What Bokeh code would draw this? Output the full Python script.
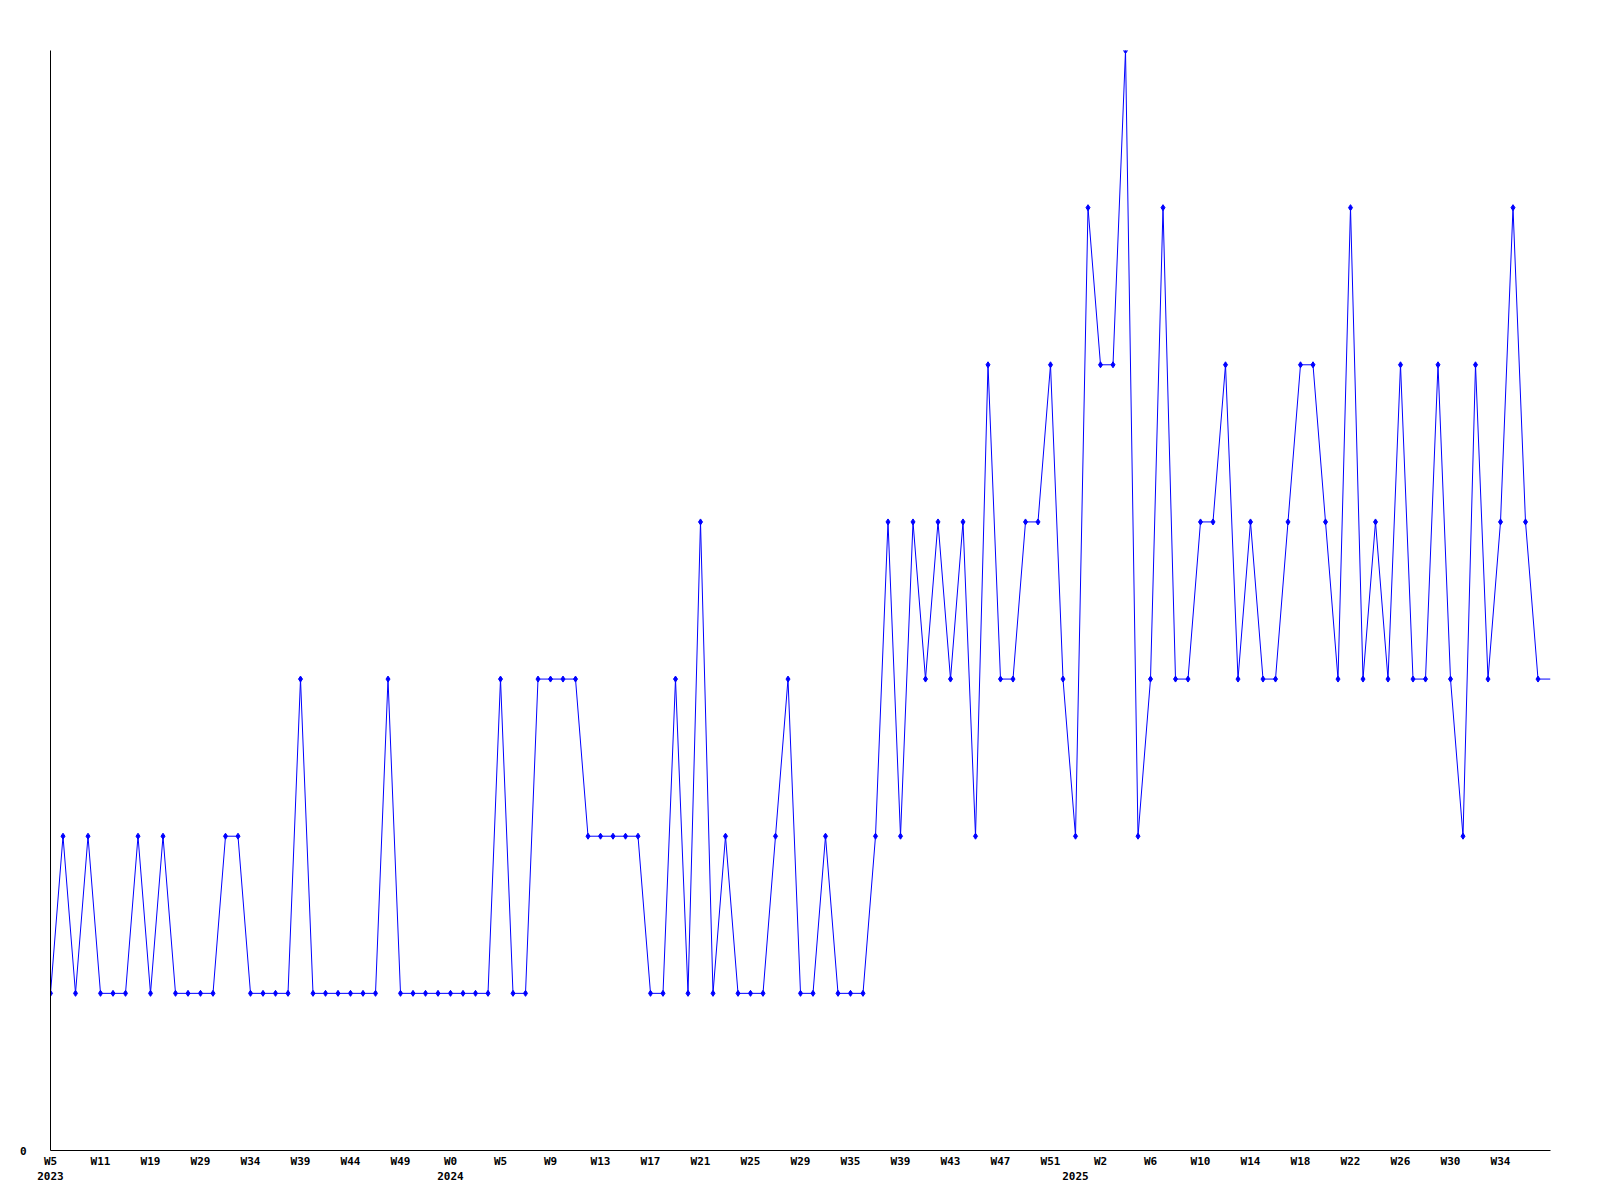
from bokeh.plotting import figure
from bokeh.models import Range1d, FixedTicker, LinearAxis, ColumnDataSource
from bokeh.embed import file_html
from bokeh.resources import INLINE

# weekly counts, one per data point (categorical sequence of weeks)
values = [1, 2, 1, 2, 1, 1, 1, 2, 1, 2, 1, 1, 1, 1, 2, 2, 1, 1, 1, 1,
          3, 1, 1, 1, 1, 1, 1, 3, 1, 1, 1, 1, 1, 1, 1, 1, 3, 1, 1, 3,
          3, 3, 3, 2, 2, 2, 2, 2, 1, 1, 3, 1, 4, 1, 2, 1, 1, 1, 2, 3,
          1, 1, 2, 1, 1, 1, 2, 4, 2, 4, 3, 4, 3, 4, 2, 5, 3, 3, 4, 4,
          5, 3, 2, 6, 5, 5, 7, 2, 3, 6, 3, 3, 4, 4, 5, 3, 4, 3, 3, 4,
          5, 5, 4, 3, 6, 3, 4, 3, 5, 3, 3, 5, 3, 2, 5, 3, 4, 6, 4, 3,
          3]

# tick labels shown every 4th point
week_labels = ["W5", "W11", "W19", "W29", "W34", "W39", "W44", "W49", "W0", "W5",
               "W9", "W13", "W17", "W21", "W25", "W29", "W35", "W39", "W43", "W47",
               "W51", "W2", "W6", "W10", "W14", "W18", "W22", "W26", "W30", "W34"]
week_label_step = 4

year_labels = ["2023", "2024", "2025"]
year_positions = [0, 32, 82]

y_max = 7

xs = list(range(len(values)))
src = ColumnDataSource(dict(x=xs, y=values))
marker_src = ColumnDataSource(dict(x=xs[:-1], y=values[:-1]))

p = figure(width=1584, height=1184, output_backend="svg", toolbar_location=None,
           x_range=Range1d(0, len(values) - 1), y_range=Range1d(0, y_max),
           min_border_left=50, min_border_right=34, min_border_top=50, min_border_bottom=34)
p.outline_line_color = None
p.xgrid.visible = False
p.ygrid.visible = False
p.background_fill_color = "white"
p.border_fill_color = "white"

p.line("x", "y", source=src, line_color="#0000ff", line_width=1)
p.scatter("x", "y", source=marker_src, marker="diamond", size=6,
          fill_color="#0000ff", line_color="#0000ff")

font = "DejaVu Sans Mono"

tick_pos = [i * week_label_step for i in range(len(week_labels))]
xa = p.xaxis[0]
xa.ticker = FixedTicker(ticks=tick_pos)
xa.major_label_overrides = {t: lab for t, lab in zip(tick_pos, week_labels)}
xa.major_tick_line_color = None
xa.minor_tick_line_color = None
xa.major_tick_out = 0
xa.major_tick_in = 0
xa.major_label_standoff = 4
xa.axis_line_color = "black"
xa.axis_line_width = 1
xa.major_label_text_font = font
xa.major_label_text_font_style = "bold"
xa.major_label_text_font_size = "11px"
xa.major_label_text_color = "black"

ya = p.yaxis[0]
ya.ticker = FixedTicker(ticks=[0])
ya.major_label_overrides = {0: "0"}
ya.major_tick_line_color = None
ya.minor_tick_line_color = None
ya.major_tick_out = 0
ya.major_tick_in = 0
ya.major_label_standoff = 24
ya.axis_line_color = "black"
ya.major_label_text_font = font
ya.major_label_text_font_style = "bold"
ya.major_label_text_font_size = "11px"
ya.major_label_text_color = "black"

year_axis = LinearAxis(ticker=FixedTicker(ticks=year_positions),
                       major_label_overrides={t: y for t, y in zip(year_positions, year_labels)})
year_axis.axis_line_color = None
year_axis.major_tick_line_color = None
year_axis.minor_tick_line_color = None
year_axis.major_tick_out = 0
year_axis.major_tick_in = 0
year_axis.major_label_standoff = 1
year_axis.major_label_text_font = font
year_axis.major_label_text_font_style = "bold"
year_axis.major_label_text_font_size = "11px"
year_axis.major_label_text_color = "black"
p.add_layout(year_axis, "below")

open("out.html", "w").write(file_html(p, INLINE))
